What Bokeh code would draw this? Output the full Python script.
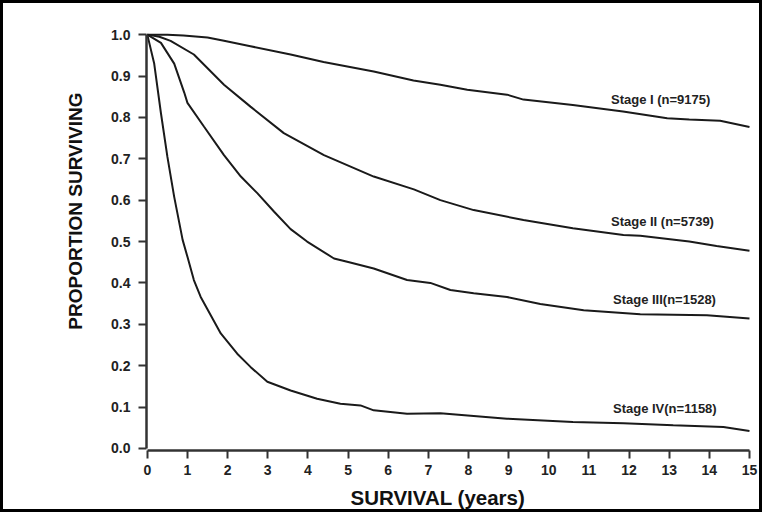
from bokeh.plotting import figure
from bokeh.models import Range1d, Title, CustomJSTickFormatter
from bokeh.core.properties import value
from bokeh.embed import file_html
from bokeh.resources import INLINE

# ---- data ----
stage1_years = [0, 0.5, 0.9, 1.5, 1.91, 2.57, 3.57, 4.39, 5.64, 6.63, 7.3, 7.97, 8.96, 9.37, 10.6, 11.85, 12.95, 13.5, 14.27, 15]
stage1_surv = [1.0, 1.0, 0.998, 0.993, 0.985, 0.972, 0.952, 0.934, 0.911, 0.889, 0.879, 0.867, 0.855, 0.843, 0.830, 0.814, 0.798, 0.795, 0.792, 0.777]

stage2_years = [0, 0.3, 0.58, 1.16, 1.91, 2.57, 3.4, 4.4, 5.64, 6.64, 7.3, 8.13, 9.37, 10.6, 11.86, 12.28, 13.5, 14.18, 15]
stage2_surv = [1.0, 0.995, 0.985, 0.952, 0.879, 0.826, 0.762, 0.709, 0.657, 0.626, 0.600, 0.576, 0.552, 0.532, 0.516, 0.514, 0.500, 0.489, 0.478]

stage3_years = [0, 0.34, 0.67, 0.92, 1.0, 1.41, 1.91, 2.33, 2.74, 3.16, 3.57, 3.98, 4.65, 4.98, 5.64, 6.47, 7.05, 7.55, 8.13, 8.96, 9.79, 10.87, 12.28, 13.94, 15]
stage3_surv = [1.0, 0.98, 0.93, 0.86, 0.835, 0.778, 0.709, 0.657, 0.617, 0.572, 0.530, 0.500, 0.459, 0.451, 0.435, 0.407, 0.400, 0.383, 0.375, 0.366, 0.349, 0.334, 0.324, 0.322, 0.314]

stage4_years = [0, 0.17, 0.34, 0.5, 0.67, 0.88, 1.0, 1.16, 1.33, 1.83, 2.24, 2.57, 2.99, 3.57, 4.23, 4.81, 5.31, 5.64, 6.47, 7.3, 8.96, 10.6, 11.86, 13.1, 14.35, 15]
stage4_surv = [1.0, 0.931, 0.81, 0.705, 0.608, 0.504, 0.463, 0.407, 0.366, 0.278, 0.229, 0.197, 0.161, 0.140, 0.120, 0.108, 0.104, 0.092, 0.084, 0.085, 0.072, 0.064, 0.061, 0.056, 0.052, 0.042]

label_texts = ["Stage I  (n=9175)", "Stage II (n=5739)", "Stage III(n=1528)", "Stage IV(n=1158)"]
label_x = [11.55, 11.55, 11.6, 11.6]
label_y = [0.843, 0.548, 0.36, 0.096]

x_ticks = list(range(0, 16))
y_ticks = [0.0, 0.1, 0.2, 0.3, 0.4, 0.5, 0.6, 0.7, 0.8, 0.9, 1.0]

x_title = "SURVIVAL (years)"
y_title = "PROPORTION SURVIVING"

FONT = "Liberation Sans"

p = figure(width=762, height=512, output_backend="svg", toolbar_location=None,
           x_range=Range1d(-0.02, 15.1), y_range=Range1d(-0.005, 1.01),
           min_border_left=143, min_border_top=27, min_border_right=12, min_border_bottom=65)
p.styles = {"border": "3px solid #000"}
p.background_fill_color = "white"
p.border_fill_color = "white"
p.outline_line_color = None
p.xgrid.visible = False
p.ygrid.visible = False

for xs, ys in [(stage1_years, stage1_surv), (stage2_years, stage2_surv),
               (stage3_years, stage3_surv), (stage4_years, stage4_surv)]:
    p.line(xs, ys, line_color="#1a1a1a", line_width=2)

p.text(x=label_x, y=label_y, text=label_texts, text_font=value(FONT),
       text_font_style="bold", text_font_size="13px", text_color="#222",
       text_align="left", text_baseline="middle")

for ax in (p.xaxis[0], p.yaxis[0]):
    ax.axis_line_color = "#333"
    ax.axis_line_width = 2.5
    ax.major_tick_line_color = "#333"
    ax.major_tick_line_width = 2
    ax.major_tick_in = 0
    ax.major_tick_out = 8
    ax.minor_tick_line_color = None
    ax.major_label_text_font = FONT
    ax.major_label_text_font_style = "bold"
    ax.major_label_text_font_size = "14px"
    ax.major_label_text_color = "#222"

p.xaxis[0].ticker = x_ticks
p.yaxis[0].ticker = y_ticks
p.xaxis[0].bounds = (0, 15)
p.yaxis[0].bounds = (0, 1)
p.yaxis[0].formatter = CustomJSTickFormatter(code="return tick.toFixed(1);")
p.xaxis[0].major_label_standoff = 6
p.yaxis[0].major_label_standoff = 8

# axis titles as side titles so they can be offset like in the reference
p.add_layout(Title(text=x_title, align="left", offset=204, standoff=12,
                   text_font=FONT, text_font_style="bold", text_font_size="20.5px",
                   text_color="#111"), "below")
p.add_layout(Title(text=y_title, align="right", offset=62, standoff=46,
                   text_font=FONT, text_font_style="bold", text_font_size="19px",
                   text_color="#111"), "left")

open("out.html", "w").write(file_html(p, INLINE))
